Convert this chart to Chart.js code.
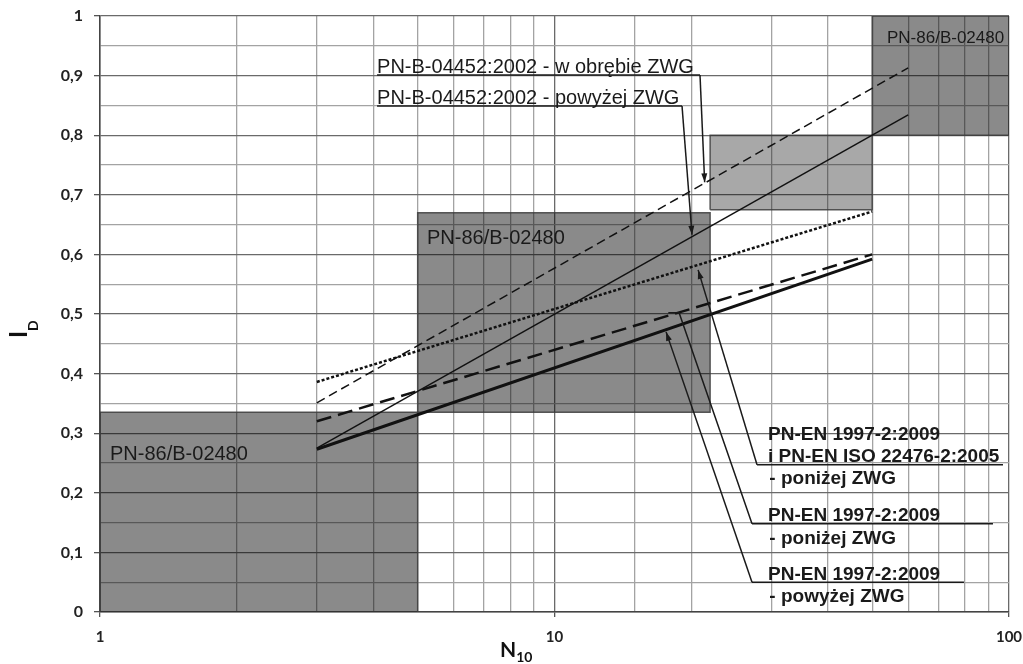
<!DOCTYPE html>
<html lang="pl">
<head>
<meta charset="UTF-8">
<title>Stopień zagęszczenia I_D w funkcji N10</title>
<script src="https://cdn.jsdelivr.net/npm/chart.js"></script>
<style>
    body {
        margin: 0;
        background: #fff;
    }

    .chart-container {
        width: 1023px;
        height: 664px;
    }
</style>
</head>
<body>
<div class="chart-container">
    <canvas id="idChart"></canvas>
</div>
<script>
    // Strefy wg PN-86/B-02480 (prostokąty)
    const strefaN0 = [1, 5, 22, 50];
    const strefaN1 = [5, 22, 50, 100];
    const strefaI0 = [0, 0.335, 0.675, 0.8];
    const strefaI1 = [0.335, 0.67, 0.8, 1];

    // Zależności I_D = f(N10), proste w skali log
    const liniaNazwy = [
        'PN-B-04452:2002 - w obrębie ZWG',
        'PN-B-04452:2002 - powyżej ZWG',
        'PN-EN 1997-2:2009 i PN-EN ISO 22476-2:2005 - poniżej ZWG',
        'PN-EN 1997-2:2009 - poniżej ZWG',
        'PN-EN 1997-2:2009 - powyżej ZWG'
    ];
    const liniaN = [[3, 60], [3, 60], [3, 50], [3, 50], [3, 50]];
    const liniaI = [[0.351, 0.913], [0.275, 0.834], [0.386, 0.672], [0.320, 0.600], [0.273, 0.592]];

    const xEtykiety = [1, 10, 100];

    // wygląd linii
    const liniaStyl = [
        { width: 1.5, dash: [9, 5] },
        { width: 1.5, dash: [] },
        { width: 2.5, dash: [3, 2] },
        { width: 2.5, dash: [15, 7] },
        { width: 3, dash: [] }
    ];
    const strefaKolor = ['rgba(0,0,0,0.46)', 'rgba(0,0,0,0.46)', 'rgba(0,0,0,0.34)', 'rgba(0,0,0,0.46)'];

    // podpisy (w jednostkach osi)
    const podpisyStref = [
        { n: 1.052, i: 0.255, size: 20 },
        { n: 5.24, i: 0.617, size: 20 },
        { n: 53.9, i: 0.955, size: 17 }
    ];
    const opisy = [
        { font: '20px "Liberation Sans", Arial', lines: [[liniaNazwy[0], 4.07, 0.904]],
          under: [4.07, 20.9, 0.901], leader: [[20.9, 0.901], [21.4, 0.721]], arrow: true },
        { font: '20px "Liberation Sans", Arial', lines: [[liniaNazwy[1], 4.07, 0.853]],
          under: [4.07, 19.08, 0.849], leader: [[19.08, 0.849], [20.07, 0.633]], arrow: true },
        { font: 'bold 19px "Liberation Sans", Arial',
          lines: [['PN-EN 1997-2:2009', 29.5, 0.289], ['i PN-EN ISO 22476-2:2005', 29.5, 0.251], ['- poniżej ZWG', 29.7, 0.215]],
          under: [27.9, 97, 0.247], leader: [[27.9, 0.247], [20.7, 0.574]], arrow: true },
        { font: 'bold 19px "Liberation Sans", Arial',
          lines: [['PN-EN 1997-2:2009', 29.5, 0.153], ['- poniżej ZWG', 29.7, 0.114]],
          under: [27.2, 92.2, 0.148], leader: [[27.2, 0.148], [18.8, 0.502], [17.8, 0.502]], arrow: false },
        { font: 'bold 19px "Liberation Sans", Arial',
          lines: [['PN-EN 1997-2:2009', 29.5, 0.054], ['- powyżej ZWG', 29.7, 0.017]],
          under: [27.2, 79.6, 0.050], leader: [[27.2, 0.050], [17.6, 0.470]], arrow: true }
    ];

    function czyGlowna(v) {
        return Math.round(v * 100) % 10 === 0;
    }

    function czyDekada(v) {
        return xEtykiety.includes(v);
    }

    const datasets = [];

    liniaN.forEach((n, k) => {
        datasets.push({
            label: liniaNazwy[k],
            data: [{ x: n[0], y: liniaI[k][0] }, { x: n[1], y: liniaI[k][1] }],
            showLine: true,
            borderColor: '#111',
            borderWidth: liniaStyl[k].width,
            borderDash: liniaStyl[k].dash,
            pointRadius: 0,
            fill: false,
            order: 1
        });
    });

    strefaN0.forEach((n0, k) => {
        // wypełnienie
        datasets.push({
            label: 'PN-86/B-02480',
            data: [{ x: n0, y: strefaI1[k] }, { x: strefaN1[k], y: strefaI1[k] }],
            showLine: true,
            borderWidth: 0,
            pointRadius: 0,
            backgroundColor: strefaKolor[k],
            fill: { value: strefaI0[k] },
            order: 3
        });
        // obrys
        datasets.push({
            label: 'PN-86/B-02480',
            data: [
                { x: n0, y: strefaI0[k] }, { x: strefaN1[k], y: strefaI0[k] },
                { x: strefaN1[k], y: strefaI1[k] }, { x: n0, y: strefaI1[k] }, { x: n0, y: strefaI0[k] }
            ],
            showLine: true,
            borderColor: 'rgba(60,60,60,0.85)',
            borderWidth: 1.5,
            pointRadius: 0,
            fill: false,
            order: 2
        });
    });

    function strzalka(ctx, x0, y0, x1, y1) {
        const a = Math.atan2(y1 - y0, x1 - x0);
        const len = 9, w = 3;
        ctx.beginPath();
        ctx.moveTo(x1, y1);
        ctx.lineTo(x1 - len * Math.cos(a) + w * Math.sin(a), y1 - len * Math.sin(a) - w * Math.cos(a));
        ctx.lineTo(x1 - len * Math.cos(a) - w * Math.sin(a), y1 - len * Math.sin(a) + w * Math.cos(a));
        ctx.closePath();
        ctx.fill();
    }

    const opisyPlugin = {
        id: 'opisy',
        afterDatasetsDraw(chart) {
            const ctx = chart.ctx;
            const sx = chart.scales.x, sy = chart.scales.y;
            const px = n => sx.getPixelForValue(n);
            const py = i => sy.getPixelForValue(i);
            ctx.save();
            ctx.fillStyle = '#1a1a1a';
            ctx.strokeStyle = '#1a1a1a';
            ctx.textBaseline = 'alphabetic';
            ctx.textAlign = 'left';

            podpisyStref.forEach(p => {
                ctx.font = p.size + 'px "Liberation Sans", Arial';
                ctx.fillText('PN-86/B-02480', px(p.n), py(p.i));
            });

            opisy.forEach(o => {
                ctx.font = o.font;
                o.lines.forEach(l => ctx.fillText(l[0], px(l[1]), py(l[2])));
                ctx.lineWidth = 1.5;
                ctx.beginPath();
                ctx.moveTo(px(o.under[0]), py(o.under[2]));
                ctx.lineTo(px(o.under[1]), py(o.under[2]));
                ctx.stroke();
                ctx.beginPath();
                o.leader.forEach((p, j) => {
                    if (j === 0) ctx.moveTo(px(p[0]), py(p[1]));
                    else ctx.lineTo(px(p[0]), py(p[1]));
                });
                ctx.stroke();
                if (o.arrow) {
                    const a = o.leader[o.leader.length - 2], b = o.leader[o.leader.length - 1];
                    strzalka(ctx, px(a[0]), py(a[1]), px(b[0]), py(b[1]));
                }
            });
            ctx.restore();
        },
        afterDraw(chart) {
            const ctx = chart.ctx;
            ctx.save();
            ctx.fillStyle = '#111';
            // tytuł osi Y: I_D
            ctx.translate(27, 338);
            ctx.rotate(-Math.PI / 2);
            ctx.font = 'bold 24px Lato';
            ctx.fillText('I', 0, 0);
            const w = ctx.measureText('I').width;
            ctx.font = 'bold 14px Lato';
            ctx.fillText('D', w, 11);
            ctx.restore();

            ctx.save();
            ctx.fillStyle = '#111';
            // tytuł osi X: N_10
            ctx.font = 'bold 21px Lato';
            ctx.fillText('N', 500, 657);
            const wn = ctx.measureText('N').width;
            ctx.font = 'bold 14px Lato';
            ctx.fillText('10', 500 + wn, 662);
            ctx.restore();
        }
    };

    const ctx = document.getElementById('idChart').getContext('2d');
    new Chart(ctx, {
        type: 'scatter',
        data: { datasets: datasets },
        plugins: [opisyPlugin],
        options: {
            responsive: true,
            maintainAspectRatio: false,
            animation: false,
            layout: { padding: { left: 0, right: 14, top: 16, bottom: 0 } },
            plugins: {
                legend: { display: false },
                tooltip: { enabled: false }
            },
            scales: {
                x: {
                    type: 'logarithmic',
                    min: 1,
                    max: 100,
                    afterFit: s => {
                        s.height = 52;
                        s.paddingLeft = 0;
                        s.paddingRight = 0;
                    },
                    border: { color: '#444', width: 1.5 },
                    grid: {
                        color: c => (c.tick && czyDekada(c.tick.value) ? '#6a6a6a' : '#a3a3a3'),
                        lineWidth: 1.3,
                        tickLength: 5,
                        tickColor: c => (c.tick && czyDekada(c.tick.value) ? '#555' : 'rgba(0,0,0,0)')
                    },
                    ticks: {
                        autoSkip: false,
                        maxRotation: 0,
                        padding: 11,
                        color: '#222',
                        font: { family: 'Lato', weight: 'bold', size: 15 },
                        callback: v => (czyDekada(v) ? String(v) : '')
                    }
                },
                y: {
                    min: 0,
                    max: 1,
                    afterFit: s => {
                        s.width = 100;
                        s.paddingTop = 0;
                        s.paddingBottom = 0;
                    },
                    border: { color: '#444', width: 1.5 },
                    grid: {
                        color: c => (c.tick && czyGlowna(c.tick.value) ? '#6a6a6a' : '#a3a3a3'),
                        lineWidth: 1.3,
                        tickLength: 6,
                        tickColor: c => (c.tick && czyGlowna(c.tick.value) ? '#555' : 'rgba(0,0,0,0)')
                    },
                    ticks: {
                        stepSize: 0.05,
                        autoSkip: false,
                        padding: 11,
                        color: '#222',
                        font: { family: 'Lato', weight: 'bold', size: 16 },
                        callback: v => (czyGlowna(v) ? String(Math.round(v * 10) / 10).replace('.', ',') : '')
                    }
                }
            }
        }
    });
</script>
</body>
</html>
